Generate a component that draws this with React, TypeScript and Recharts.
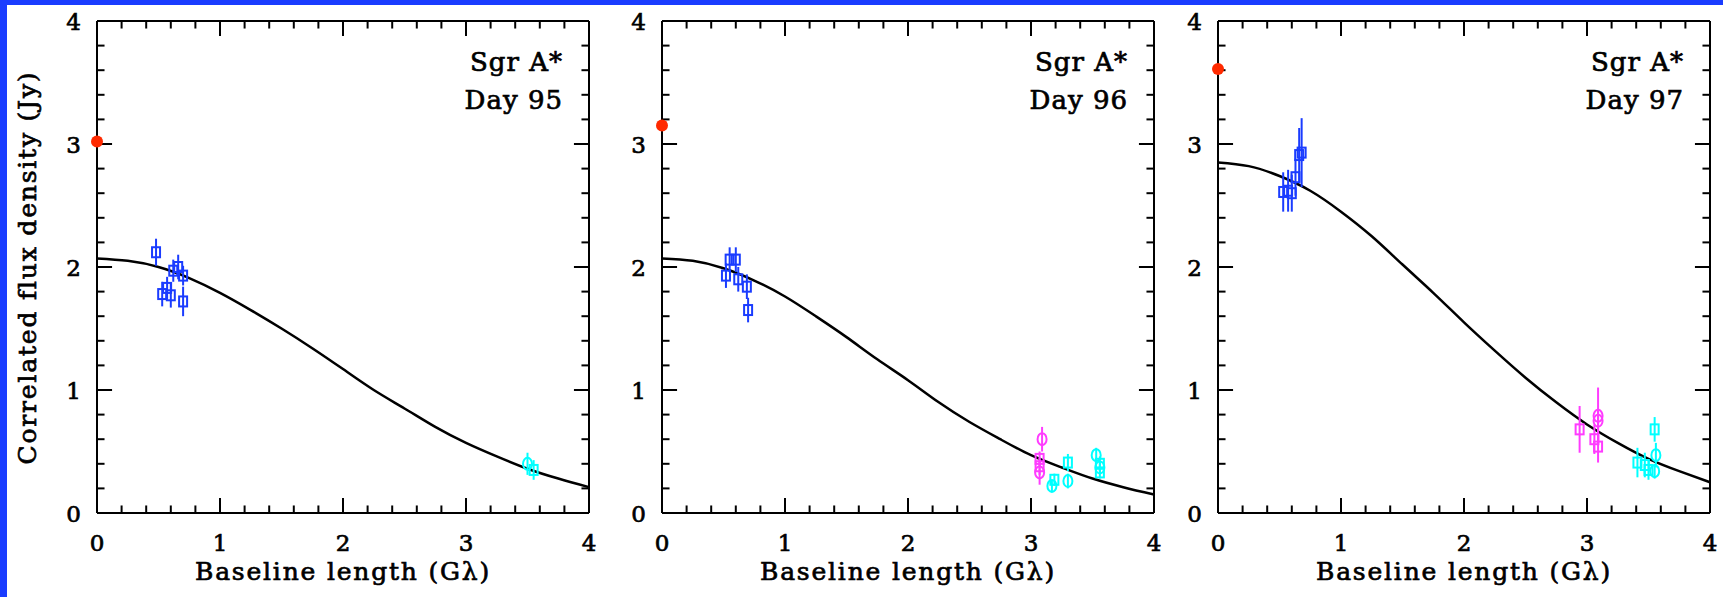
import { ComposedChart, Line, Scatter, XAxis, YAxis, ErrorBar, ReferenceLine } from "recharts";

const FONT = "'DejaVu Serif', serif";
const BLUE = "#1a3cff";
const CYAN = "#00ffff";
const MAGENTA = "#ff3cff";
const RED = "#ff2a00";

const majorTicks = [0, 1, 2, 3, 4];
const minorTicks = [0.2, 0.4, 0.6, 0.8, 1.2, 1.4, 1.6, 1.8, 2.2, 2.4, 2.6, 2.8, 3.2, 3.4, 3.6, 3.8];

// model curve, every 0.25 G-lambda
const curveU = [0, 0.25, 0.5, 0.75, 1, 1.25, 1.5, 1.75, 2, 2.25, 2.5, 2.75, 3, 3.25, 3.5, 3.75, 4];
const curve95 = [2.07, 2.05, 2.0, 1.91, 1.79, 1.65, 1.5, 1.34, 1.17, 1.0, 0.85, 0.7, 0.57, 0.46, 0.36, 0.28, 0.21];
const curve96 = [2.07, 2.05, 1.99, 1.89, 1.76, 1.6, 1.43, 1.25, 1.08, 0.9, 0.74, 0.6, 0.47, 0.37, 0.28, 0.21, 0.15];
const curve97 = [2.85, 2.82, 2.74, 2.62, 2.45, 2.25, 2.02, 1.79, 1.55, 1.32, 1.1, 0.9, 0.72, 0.57, 0.44, 0.34, 0.25];

// total flux at zero spacing
const red95 = [{ u: 0, v: 3.02 }];
const red96 = [{ u: 0, v: 3.15 }];
const red97 = [{ u: 0, v: 3.61 }];

// u = baseline (G lambda), v = flux (Jy), e = error
const blueSq95 = [
  { u: 0.48, v: 2.12, e: 0.11 },
  { u: 0.53, v: 1.78, e: 0.1 },
  { u: 0.57, v: 1.83, e: 0.09 },
  { u: 0.6, v: 1.77, e: 0.1 },
  { u: 0.62, v: 1.97, e: 0.09 },
  { u: 0.66, v: 2.0, e: 0.1 },
  { u: 0.7, v: 1.93, e: 0.08 },
  { u: 0.7, v: 1.72, e: 0.12 },
];
const cyanSq95 = [{ u: 3.55, v: 0.35, e: 0.08 }];
const cyanCi95 = [{ u: 3.5, v: 0.4, e: 0.09 }];

const blueSq96 = [
  { u: 0.52, v: 1.93, e: 0.1 },
  { u: 0.55, v: 2.06, e: 0.1 },
  { u: 0.6, v: 2.06, e: 0.1 },
  { u: 0.62, v: 1.9, e: 0.1 },
  { u: 0.69, v: 1.84, e: 0.1 },
  { u: 0.7, v: 1.65, e: 0.1 },
];
const magSq96 = [
  { u: 3.07, v: 0.44, e: 0.06 },
  { u: 3.07, v: 0.38, e: 0.07 },
];
const magCi96 = [
  { u: 3.09, v: 0.6, e: 0.1 },
  { u: 3.07, v: 0.33, e: 0.1 },
];
const cyanSq96 = [
  { u: 3.19, v: 0.27, e: 0.05 },
  { u: 3.3, v: 0.41, e: 0.07 },
  { u: 3.56, v: 0.4, e: 0.06 },
  { u: 3.56, v: 0.33, e: 0.05 },
];
const cyanCi96 = [
  { u: 3.17, v: 0.22, e: 0.05 },
  { u: 3.3, v: 0.26, e: 0.06 },
  { u: 3.53, v: 0.47, e: 0.06 },
  { u: 3.56, v: 0.37, e: 0.05 },
];

const blueSq97 = [
  { u: 0.53, v: 2.61, e: 0.16 },
  { u: 0.57, v: 2.62, e: 0.17 },
  { u: 0.6, v: 2.6, e: 0.15 },
  { u: 0.63, v: 2.73, e: 0.15 },
  { u: 0.66, v: 2.91, e: 0.22 },
  { u: 0.68, v: 2.93, e: 0.28 },
];
const magSq97 = [
  { u: 2.94, v: 0.68, e: 0.19 },
  { u: 3.06, v: 0.6, e: 0.12 },
  { u: 3.09, v: 0.54, e: 0.13 },
];
const magCi97 = [
  { u: 3.09, v: 0.79, e: 0.23 },
  { u: 3.09, v: 0.75, e: 0.1 },
];
const cyanSq97 = [
  { u: 3.41, v: 0.41, e: 0.12 },
  { u: 3.47, v: 0.39, e: 0.1 },
  { u: 3.5, v: 0.35, e: 0.08 },
  { u: 3.55, v: 0.68, e: 0.1 },
];
const cyanCi97 = [
  { u: 3.56, v: 0.47, e: 0.1 },
  { u: 3.55, v: 0.34, e: 0.06 },
];

const square = (color: string) => (p: any) => (
  <rect x={p.cx - 4} y={p.cy - 5} width={8} height={10} fill="none" stroke={color} strokeWidth={2} />
);
const circle = (color: string) => (p: any) => (
  <ellipse cx={p.cx} cy={p.cy} rx={4.5} ry={6} fill="none" stroke={color} strokeWidth={2} />
);
const dot = (p: any) => <circle cx={p.cx} cy={p.cy} r={6} fill={RED} />;

const frame = { stroke: "#000", strokeWidth: 2 };
const txt = { fontFamily: FONT, fontSize: 23, fill: "#000", stroke: "#000", strokeWidth: 0.7 };

const labelBottom = (p: any) => (
  <text x={p.x} y={p.y + 38} textAnchor="middle" {...txt}>{p.payload.value}</text>
);
const labelLeft = (p: any) => (
  <text x={p.x - 16} y={p.y + 8.5} textAnchor="end" {...txt}>{p.payload.value}</text>
);

// inward tick marks on all four sides, lengths in data units (122.5 px per unit)
const MAJ = 15 / 122.5;
const MIN = 7.5 / 122.5;
function tickSegments() {
  const segs: any[] = [];
  const add = (t: number, l: number) => {
    segs.push([{ x: t, y: 0 }, { x: t, y: l }]);
    segs.push([{ x: t, y: 4 }, { x: t, y: 4 - l }]);
    segs.push([{ x: 0, y: t }, { x: l, y: t }]);
    segs.push([{ x: 4, y: t }, { x: 4 - l, y: t }]);
  };
  majorTicks.forEach((t) => add(t, MAJ));
  minorTicks.forEach((t) => add(t, MIN));
  return segs;
}
const segments = tickSegments();

const htmlText = { fontFamily: FONT, lineHeight: 1, whiteSpace: "nowrap" as const, WebkitTextStroke: "0.7px #000" };

function Panel({ left, day, curve, red, blueSq, magSq, magCi, cyanSq, cyanCi, ylabel }: any) {
  const curveData = curveU.map((u, i) => ({ u, v: curve[i] }));
  const groups = [
    { d: blueSq, c: BLUE, s: square(BLUE) },
    { d: magSq, c: MAGENTA, s: square(MAGENTA) },
    { d: magCi, c: MAGENTA, s: circle(MAGENTA) },
    { d: cyanSq, c: CYAN, s: square(CYAN) },
    { d: cyanCi, c: CYAN, s: circle(CYAN) },
  ].filter((g) => g.d && g.d.length);
  const common = { type: "number" as const, domain: [0, 4], interval: 0, tickSize: 0, tickMargin: 0, tickLine: false };
  return (
    <>
      <div style={{ position: "absolute", left: left - 90, top: 0 }}>
        <ComposedChart width={590} height={597} margin={{ top: 20, right: 8, bottom: 83, left: 88 }}>
          <XAxis dataKey="u" {...common} ticks={majorTicks} height={1} axisLine={frame} tick={labelBottom} />
          <XAxis xAxisId="xt" orientation="top" {...common} allowDataOverflow ticks={majorTicks} height={1} axisLine={frame} tick={false} />
          <YAxis dataKey="v" {...common} ticks={majorTicks} width={1} axisLine={frame} tick={labelLeft} />
          <YAxis yAxisId="yr" orientation="right" {...common} allowDataOverflow ticks={majorTicks} width={1} axisLine={frame} tick={false} />
          {segments.map((s, i) => (
            <ReferenceLine key={"t" + i} segment={s} stroke="#000" strokeWidth={2} ifOverflow="visible" />
          ))}
          <Line data={curveData} dataKey="v" type="natural" dot={false} stroke="#000" strokeWidth={2.5} isAnimationActive={false} />
          {groups.map((g, i) => (
            <Scatter key={i} data={g.d} dataKey="v" shape={g.s} isAnimationActive={false}>
              <ErrorBar dataKey="e" direction="y" width={0} stroke={g.c} strokeWidth={2} />
            </Scatter>
          ))}
          <Scatter data={red} dataKey="v" shape={dot} isAnimationActive={false} />
        </ComposedChart>
      </div>
      <div style={{ ...htmlText, position: "absolute", left: left + 465 - 200, top: 49, width: 200, textAlign: "right", fontSize: 26, letterSpacing: 1 }}>
        Sgr A*
      </div>
      <div style={{ ...htmlText, position: "absolute", left: left + 465 - 200, top: 87, width: 200, textAlign: "right", fontSize: 26, letterSpacing: 1 }}>
        {day}
      </div>
      <div style={{ ...htmlText, position: "absolute", left: left + 245 - 200, top: 559, width: 400, textAlign: "center", fontSize: 25, letterSpacing: 1.8 }}>
        Baseline length (Gλ)
      </div>
      {ylabel && (
        <div style={{ ...htmlText, position: "absolute", left: 26.5 - 250, top: 267 - 12.5, width: 500, height: 25, textAlign: "center",
          fontSize: 25, letterSpacing: 1.8, transform: "rotate(-90deg)" }}>
          Correlated flux density (Jy)
        </div>
      )}
    </>
  );
}

export default function App() {
  return (
    <div style={{ position: "absolute", left: 0, top: 0, width: 1723, height: 597, background: "#fff", overflow: "hidden", color: "#000" }}>
      <Panel left={98} day="Day 95" curve={curve95} red={red95} blueSq={blueSq95} cyanSq={cyanSq95} cyanCi={cyanCi95} ylabel />
      <Panel left={663} day="Day 96" curve={curve96} red={red96} blueSq={blueSq96} magSq={magSq96} magCi={magCi96} cyanSq={cyanSq96} cyanCi={cyanCi96} />
      <Panel left={1219} day="Day 97" curve={curve97} red={red97} blueSq={blueSq97} magSq={magSq97} magCi={magCi97} cyanSq={cyanSq97} cyanCi={cyanCi97} />
      <div style={{ position: "absolute", left: 0, top: 0, width: 1723, height: 5, background: BLUE }} />
      <div style={{ position: "absolute", left: 0, top: 0, width: 7, height: 597, background: BLUE }} />
    </div>
  );
}
